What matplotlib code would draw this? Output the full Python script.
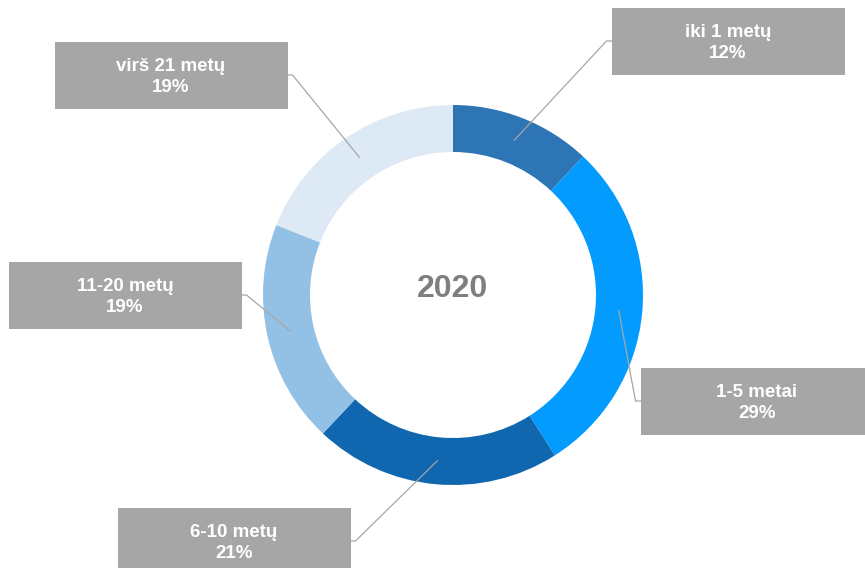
import numpy as np
import matplotlib.pyplot as plt
from matplotlib.patches import Rectangle

categories = ["iki 1 metų", "1-5 metai", "6-10 metų", "11-20 metų", "virš 21 metų"]
shares = [12, 29, 21, 19, 19]
year = "2020"

colors = ["#2E75B6", "#039CFE", "#1167AF", "#92C1E5", "#DDEAF6"]

# label box centres in pixel coords (y from top)
box_centres = [(728, 41), (757, 401), (234, 541), (125, 295), (171, 75)]
BOX_W, BOX_H = 233, 67
BOX_GREY = "#A6A6A6"

W, H = 865, 568
CX, CY, R_OUT, R_IN = 453, 295, 190, 143

fig = plt.figure(figsize=(W / 100, H / 100), dpi=100)
ax = fig.add_axes([0, 0, 1, 1])

wedges, _ = ax.pie(shares, colors=colors, startangle=90, counterclock=False,
                   center=(CX, H - CY), radius=R_OUT,
                   wedgeprops=dict(width=R_OUT - R_IN, linewidth=0))
ax.set_xlim(0, W)
ax.set_ylim(0, H)
ax.set_aspect("equal")
ax.axis("off")

ax.text(CX, H - CY + 6, year, ha="center", va="center", fontsize=23,
        fontweight="bold", color="#7F7F7F", family="Liberation Sans")

r_mid = (R_OUT + R_IN) / 2
for wedge, name, val, (bx, by) in zip(wedges, categories, shares, box_centres):
    ang = np.deg2rad((wedge.theta1 + wedge.theta2) / 2)
    px = CX + r_mid * np.cos(ang)
    py = (H - CY) + r_mid * np.sin(ang)
    by_ = H - by
    if bx > CX:
        edge = bx - BOX_W / 2
        stub = edge - 5
    else:
        edge = bx + BOX_W / 2
        stub = edge + 5
    ax.plot([px, stub, edge], [py, by_, by_], color="#A6A6A6", lw=0.9, zorder=3)
    ax.add_patch(Rectangle((bx - BOX_W / 2, by_ - BOX_H / 2), BOX_W, BOX_H,
                           facecolor=BOX_GREY, edgecolor="none", zorder=4))
    ax.text(bx, by_ - 2, f"{name}\n{val}%", ha="center", va="center",
            fontsize=13.5, fontweight="bold", color="white",
            family="Liberation Sans", linespacing=1.32, zorder=5)

fig.savefig("out.png", dpi=100)
